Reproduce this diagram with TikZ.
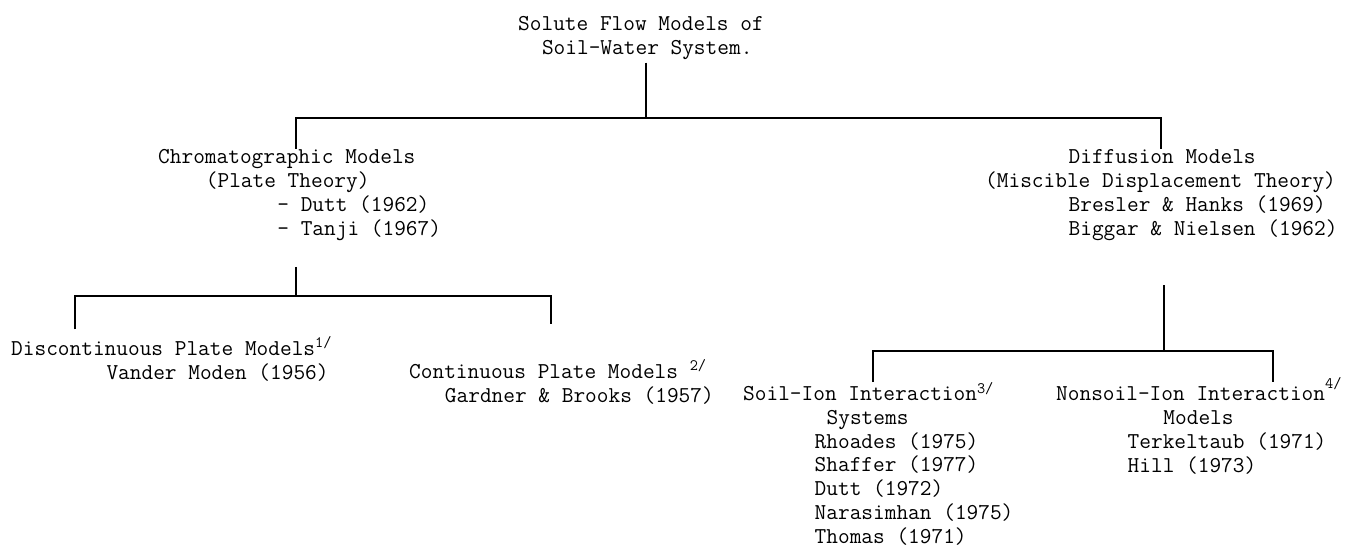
\documentclass[tikz,border=0pt]{standalone}
\usetikzlibrary{positioning}
\newcommand{\cols}[1]{\hspace*{#1\dimexpr0.525em\relax}}
\newcommand{\fnote}[1]{\textsuperscript{#1/}}

\begin{document}
\begin{tikzpicture}[x=1pt, y=-1pt,
    font=\fontsize{22.7}{24.2}\selectfont\ttfamily,
    t/.style={anchor=base west, align=left, inner sep=0pt},
    tight/.style={t, font=\fontsize{22.7}{23.7}\selectfont\ttfamily},
    link/.style={line width=1.7pt},
  ]
    \useasboundingbox (0,0) rectangle (1354,547);
    % anchors sit on the baseline of each block's last line
    \node[t] (root) at (518,54.2) {Solute Flow Models of\\\cols{2}Soil-Water System.};
    \node[t] (chrom) at (158,235.6) {Chromatographic Models\\\cols{4}(Plate Theory)\\\cols{10}- Dutt (1962)\\\cols{10}- Tanji (1967)};
    \node[t] (diff) at (985,235.6) {\cols{7}Diffusion Models\\(Miscible Displacement Theory)\\\cols{7}Bresler \& Hanks (1969)\\\cols{7}Biggar \& Nielsen (1962)};
    \node[t] (disc) at (11,379.2) {Discontinuous Plate Models\fnote{1}\\\cols{8}Vander Moden (1956)};
    \node[t] (cont) at (409,402.2) {Continuous Plate Models \fnote{2}\\\cols{3}Gardner \& Brooks (1957)};
    \node[tight] (soil) at (743,543) {Soil-Ion Interaction\fnote{3}\\\cols{7}Systems\\\cols{6}Rhoades (1975)\\\cols{6}Shaffer (1977)\\\cols{6}Dutt (1972)\\\cols{6}Narasimhan (1975)\\\cols{6}Thomas (1971)};
    \node[tight] (nons) at (1056,472) {Nonsoil-Ion Interaction\raisebox{5pt}{\fnote{4}}\\\cols{9}Models\\\cols{6}Terkeltaub (1971)\\\cols{6}Hill (1973)};
    % junctions
    \coordinate (b0) at (646,118);
    \coordinate (b1) at (296,296);
    \coordinate (b2) at (1164,351);
    \draw[link] ([yshift=-3pt]root.south -| b0) -- (b0);
    \draw[link] (chrom.north -| b1) |- (b0) -| (diff.north);
    \draw[link] ([yshift=-26pt]chrom.south -| b1) -- (b1);
    \draw[link] ([xshift=64pt, yshift=7pt]disc.north west) |- (b1) -| ([xshift=142pt, yshift=12pt]cont.north west |- disc.north);
    \draw[link] ([yshift=-44pt]diff.south -| b2) -- (b2);
    \draw[link] ([xshift=130pt]soil.north west) |- (b2) -| ([xshift=217pt]nons.north west |- soil.north);
\end{tikzpicture}
\end{document}
